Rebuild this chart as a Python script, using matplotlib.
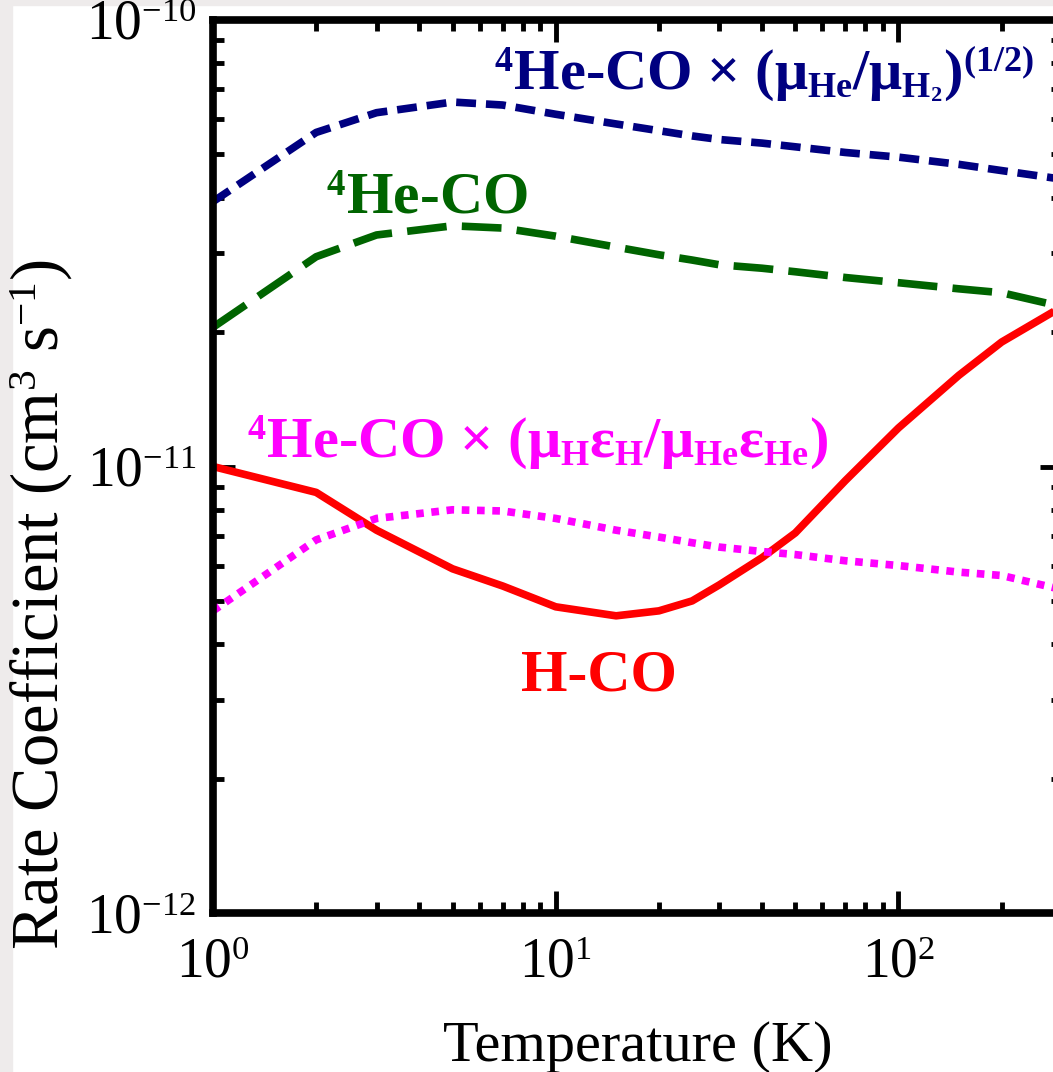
import numpy as np
import matplotlib
matplotlib.use("Agg")
import matplotlib.pyplot as plt
import matplotlib._mathtext as mathtext_internal
from matplotlib.patches import Rectangle

# smaller super/subscripts, closer to the original typesetting
mathtext_internal.SHRINK_FACTOR = 0.62

plt.rcParams['font.family'] = ['Liberation Serif', 'DejaVu Serif']
plt.rcParams['mathtext.fontset'] = 'custom'
plt.rcParams['mathtext.rm'] = 'Liberation Serif:bold'
plt.rcParams['mathtext.it'] = 'Liberation Serif:bold'
plt.rcParams['mathtext.bf'] = 'Liberation Serif:bold'

# temperatures (K) and rate coefficients (cm^3 s^-1)
T = [1, 2, 3, 5, 7, 10, 15, 20, 25, 30, 40, 50, 70, 100, 150, 200, 300]
he_scaled_mu = [3.92e-11, 5.6e-11, 6.2e-11, 6.55e-11, 6.45e-11, 6.15e-11, 5.85e-11, 5.65e-11,
                5.5e-11, 5.4e-11, 5.3e-11, 5.2e-11, 5.05e-11, 4.93e-11, 4.75e-11, 4.6e-11, 4.4e-11]
he_co = [2.05e-11, 2.95e-11, 3.3e-11, 3.46e-11, 3.42e-11, 3.28e-11, 3.1e-11, 2.98e-11,
         2.9e-11, 2.83e-11, 2.78e-11, 2.73e-11, 2.65e-11, 2.58e-11, 2.5e-11, 2.45e-11, 2.28e-11]
h_co = [1.0e-11, 8.75e-12, 7.2e-12, 5.9e-12, 5.4e-12, 4.85e-12, 4.63e-12, 4.75e-12,
        5.0e-12, 5.43e-12, 6.25e-12, 7.1e-12, 9.3e-12, 1.22e-11, 1.6e-11, 1.9e-11, 2.28e-11]
he_scaled_eps = [4.75e-12, 6.85e-12, 7.65e-12, 8.0e-12, 7.95e-12, 7.65e-12, 7.2e-12, 6.95e-12,
                 6.75e-12, 6.6e-12, 6.45e-12, 6.35e-12, 6.15e-12, 6.0e-12, 5.8e-12, 5.7e-12, 5.3e-12]

fig = plt.figure(figsize=(10.53, 10.72), dpi=100)

# light grey screenshot border on the left and top
fig.patches.append(Rectangle((0, 0), 12 / 1053, 1, transform=fig.transFigure,
                             color='#eeebeb', zorder=-10))
fig.patches.append(Rectangle((0, 1 - 5 / 1072), 1, 5 / 1072, transform=fig.transFigure,
                             color='#eeebeb', zorder=-10))

# axes run a little past the right edge of the picture (cropped at T ~ 280 K)
ax = fig.add_axes([213 / 1053, 159 / 1072, 849 / 1053, 893 / 1072])

lw = 5.5
ax.plot(T, he_scaled_mu, color='#000080', lw=lw, dashes=(2.6, 1.3))
ax.plot(T, he_co, color='#006400', lw=lw, dashes=(5.2, 2.0))
ax.plot(T, h_co, color='#ff0000', lw=lw, solid_capstyle='butt')
ax.plot(T, he_scaled_eps, color='#ff00ff', lw=lw, dashes=(1.0, 1.0))

ax.set_xscale('log')
ax.set_yscale('log')
ax.set_xlim(1, 300)
ax.set_ylim(1e-12, 1e-10)

for s in ax.spines.values():
    s.set_linewidth(5.5)
ax.tick_params(which='both', direction='in', top=True, right=True, color='black')
ax.tick_params(which='major', length=16, width=3.5, labelsize=40, pad=12)
ax.tick_params(which='minor', length=8, width=3.5)
ax.tick_params(axis='x', which='major', pad=18)

ax.set_xlabel('Temperature (K)', fontsize=42, labelpad=22)
ax.set_ylabel(r'Rate Coefficient (cm$^{\mathdefault{3}}$ s$^{\mathdefault{-1}}$)', fontsize=48)
ax.yaxis.set_label_coords(-0.163, 0.345)

# curve labels
ax.text(6.6, 7.0e-11, r'$^{4}$He-CO × ($\mu_{He}/\mu_{H_2}$)$^{(1/2)}$', color='#000080',
        fontsize=42, fontweight='bold', ha='left', va='baseline')
ax.text(2.13, 3.68e-11, r'$^{4}$He-CO', color='#006400',
        fontsize=43, fontweight='bold', ha='left', va='baseline')
ax.text(1.26, 1.05e-11, r'$^{4}$He-CO × ($\mu_{H}\varepsilon_{H}/\mu_{He}\varepsilon_{He}$)',
        color='#ff00ff', fontsize=42, fontweight='bold', ha='left', va='baseline')
ax.text(7.9, 3.15e-12, 'H-CO', color='#ff0000',
        fontsize=43, fontweight='bold', ha='left', va='baseline')

fig.savefig('out.png', dpi=100)
